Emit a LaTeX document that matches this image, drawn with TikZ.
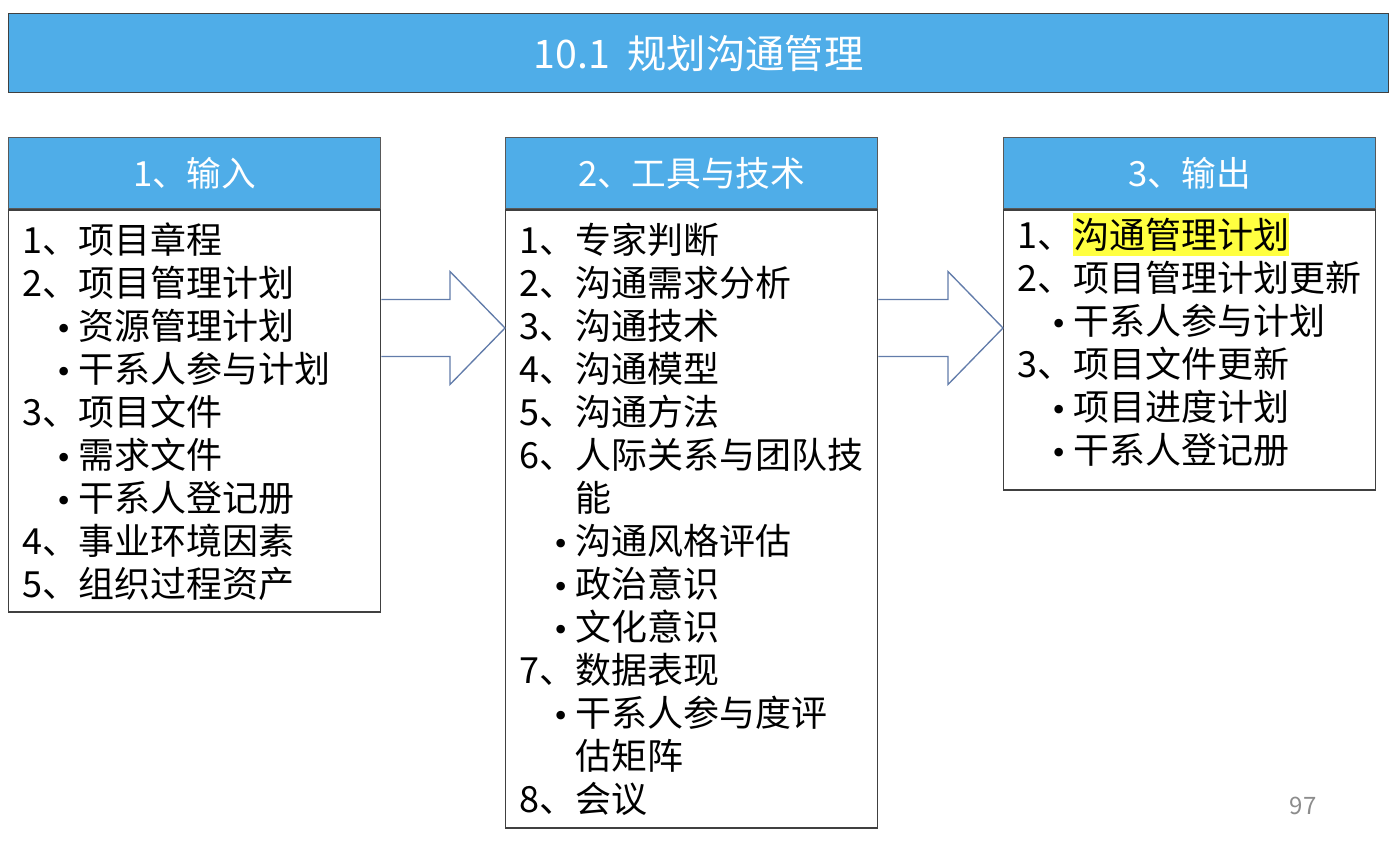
\documentclass[tikz,border=0pt]{standalone}
\usepackage{fontspec}
\setmainfont{Noto Sans CJK SC}
\newfontfamily\bulletfont{DejaVu Sans}
\usetikzlibrary{positioning,calc}
\definecolor{hdrblue}{RGB}{79,173,232}
\definecolor{arrowblue}{RGB}{98,124,170}
\definecolor{hlyellow}{RGB}{255,255,64}
\newlength\lblw
\setlength\lblw{42pt}
\newcommand\itm[2]{\makebox[\lblw][l]{#1、}#2}
\newcommand\subitm[1]{\makebox[\lblw][r]{{\bulletfont\fontsize{22}{26}\selectfont •}\hspace{4pt}}#1}
\newcommand\contline[1]{\hspace*{\lblw}#1}
\newcommand\hlmark[1]{\smash{\setlength\fboxsep{0pt}\colorbox{hlyellow}{\rule[-6pt]{0pt}{32.5pt}#1}}}

\begin{document}
\begin{tikzpicture}[
    x=0.75pt, y=-0.75pt,
    font=\fontsize{27}{32.25}\selectfont,
    titlebar/.style={
        draw=black!75,
        line width=0.8pt,
        fill=hdrblue,
        text=white,
        minimum width=1035pt,
        minimum height=59.25pt,
        anchor=north west,
        font=\fontsize{29.5}{35}\selectfont
    },
    header/.style={
        draw=black!65,
        line width=1pt,
        fill=hdrblue,
        text=white,
        minimum width=279pt,
        minimum height=53.25pt,
        inner sep=0pt,
        font=\fontsize{26}{32}\selectfont
    },
    listbox/.style={
        draw=black!75,
        line width=1pt,
        fill=white,
        minimum width=279pt,
        inner sep=0pt,
        anchor=north
    },
    listtext/.style={
        anchor=north west,
        align=left,
        inner sep=0pt
    },
    bigarrow/.style={
        draw=arrowblue,
        line width=1pt,
        fill=white,
        line join=miter
    }
]
\useasboundingbox (0,0) rectangle (1394,844);
% Title
\node[titlebar] (title) at (8,13) {10.1\ \ 规划沟通管理};

% Column 1 - inputs
\node[header, anchor=north west] (hdrA) at (8,137) {1、输入};
\node[listbox, minimum height=301.5pt] (bodyA) at (hdrA.south) {};
\node[listtext] (listA) at ([shift={(14,13)}]bodyA.north west) {
    \itm{1}{项目章程}\\
    \itm{2}{项目管理计划}\\
    \subitm{资源管理计划}\\
    \subitm{干系人参与计划}\\
    \itm{3}{项目文件}\\
    \subitm{需求文件}\\
    \subitm{干系人登记册}\\
    \itm{4}{事业环境因素}\\
    \itm{5}{组织过程资产}
};

% Column 2 - tools and techniques
\node[header, anchor=north west] (hdrB) at (505,137) {2、工具与技术};
\node[listbox, minimum height=463.5pt] (bodyB) at (hdrB.south) {};
\node[listtext] (listB) at ([shift={(14,13)}]bodyB.north west) {
    \itm{1}{专家判断}\\
    \itm{2}{沟通需求分析}\\
    \itm{3}{沟通技术}\\
    \itm{4}{沟通模型}\\
    \itm{5}{沟通方法}\\
    \itm{6}{人际关系与团队技}\\
    \contline{能}\\
    \subitm{沟通风格评估}\\
    \subitm{政治意识}\\
    \subitm{文化意识}\\
    \itm{7}{数据表现}\\
    \subitm{干系人参与度评}\\
    \contline{估矩阵}\\
    \itm{8}{会议}
};

% Column 3 - outputs
\node[header, anchor=north west] (hdrC) at (1003,137) {3、输出};
\node[listbox, minimum height=210pt] (bodyC) at (hdrC.south) {};
\node[listtext] (listC) at ([shift={(14,13)}]bodyC.north west) {
    \itm{1}{\hlmark{沟通管理计划}}\\
    \itm{2}{项目管理计划更新}\\
    \subitm{干系人参与计划}\\
    \itm{3}{项目文件更新}\\
    \subitm{项目进度计划}\\
    \subitm{干系人登记册}
};

% Flow arrows
\coordinate (arrA) at (bodyA.east |- 0,328);
\coordinate (arrB) at (bodyB.west |- 0,328);
\coordinate (arrC) at (bodyB.east |- 0,328);
\coordinate (arrD) at (bodyC.west |- 0,328);
\draw[bigarrow] ($(arrA)+(0,-28.5)$) -- ($(arrB)+(-55,-28.5)$) -- ($(arrB)+(-55,-56.5)$)
    -- (arrB) -- ($(arrB)+(-55,56.5)$) -- ($(arrB)+(-55,28.5)$) -- ($(arrA)+(0,28.5)$);
\draw[bigarrow] ($(arrC)+(0,-28.5)$) -- ($(arrD)+(-55,-28.5)$) -- ($(arrD)+(-55,-56.5)$)
    -- (arrD) -- ($(arrD)+(-55,56.5)$) -- ($(arrD)+(-55,28.5)$) -- ($(arrC)+(0,28.5)$);

% Page number
\node[text=black!45, font=\fontsize{18}{22}\selectfont] (pagenum) at (1303,806) {97};
\end{tikzpicture}
\end{document}
